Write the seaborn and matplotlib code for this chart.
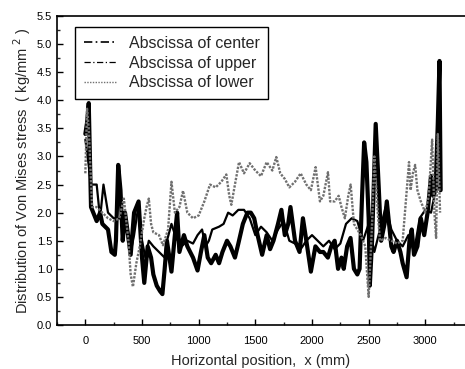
import numpy as np
import pandas as pd
import matplotlib
matplotlib.use("Agg")
import matplotlib.pyplot as plt
from matplotlib.lines import Line2D
from matplotlib.ticker import MultipleLocator
import seaborn as sns

# Abscissa of center (thick line)
x_center = [0, 15, 30, 50, 100, 130, 150, 200, 230, 260, 270, 290, 310, 330, 350, 400, 430, 470,
            500, 520, 550, 580, 600, 630, 660, 680, 700, 720, 760, 790, 810, 830, 870, 900, 950,
            990, 1020, 1050, 1080, 1110, 1150, 1180, 1210, 1250, 1280, 1320, 1350, 1390, 1430,
            1460, 1490, 1520, 1560, 1600, 1630, 1660, 1700, 1730, 1760, 1790, 1810, 1850, 1890,
            1920, 1950, 1990, 2030, 2070, 2100, 2140, 2170, 2200, 2230, 2260, 2280, 2310, 2340,
            2370, 2400, 2420, 2440, 2460, 2480, 2500, 2510, 2530, 2562, 2590, 2610, 2640, 2660,
            2700, 2720, 2750, 2780, 2800, 2835, 2860, 2880, 2900, 2930, 2960, 2990, 3020, 3050,
            3070, 3090, 3110, 3125, 3135]
y_center = [3.4, 3.6, 3.95, 2.1, 1.85, 2.0, 1.8, 1.7, 1.3, 1.25, 1.5, 2.85, 2.4, 1.5, 2.0, 1.25, 2.0,
            2.2, 1.2, 0.75, 1.4, 1.2, 0.9, 0.7, 0.6, 0.55, 1.0, 1.5, 0.95, 1.6, 2.0, 1.3, 1.6, 1.4,
            1.2, 0.97, 1.3, 1.6, 1.2, 1.1, 1.25, 1.1, 1.3, 1.5, 1.4, 1.2, 1.45, 1.8, 2.0, 2.0, 1.9,
            1.6, 1.25, 1.6, 1.35, 1.5, 1.8, 2.05, 1.6, 1.8, 2.1, 1.5, 1.3, 1.9, 1.5, 0.95, 1.4,
            1.3, 1.3, 1.2, 1.4, 1.5, 1.0, 1.2, 1.0, 1.4, 1.55, 1.0, 0.9, 1.0, 2.2, 3.25, 2.9, 1.9,
            0.7, 1.5, 3.58, 2.4, 1.5, 1.8, 2.2, 1.4, 1.3, 1.5, 1.3, 1.1, 0.85, 1.5, 1.7, 1.25, 1.4,
            1.9, 1.6, 2.0, 2.65, 2.3, 2.4, 3.6, 4.7, 2.4]

# Abscissa of upper (medium line)
x_upper = [0, 20, 50, 100, 130, 160, 200, 250, 300, 350, 380, 400, 430, 470, 500, 530, 560, 600,
           650, 700, 720, 760, 800, 850, 900, 950, 990, 1030, 1060, 1090, 1120, 1180, 1220, 1260,
           1300, 1350, 1400, 1450, 1500, 1550, 1600, 1650, 1700, 1750, 1800, 1850, 1900, 1950,
           2000, 2050, 2100, 2150, 2200, 2250, 2300, 2350, 2400, 2450, 2500, 2550, 2600, 2650,
           2700, 2750, 2800, 2850, 2900, 2950, 3000, 3050, 3080, 3100, 3130]
y_upper = [3.3, 3.0, 2.5, 2.5, 1.9, 2.5, 2.0, 1.9, 1.9, 1.85, 1.5, 1.3, 1.6, 2.15, 1.5, 1.2, 1.5,
           1.4, 1.3, 1.2, 1.5, 1.8, 1.55, 1.4, 1.5, 1.45, 1.6, 1.7, 1.4, 1.5, 1.7, 1.75, 1.8, 2.0,
           1.95, 2.05, 2.05, 1.9, 1.6, 1.75, 1.65, 1.5, 1.7, 1.85, 1.5, 1.45, 1.35, 1.5, 1.6,
           1.5, 1.4, 1.5, 1.35, 1.45, 1.8, 1.9, 1.85, 1.5, 1.8, 1.3, 1.7, 2.1, 1.7, 1.5, 1.4, 1.6,
           1.3, 1.9, 2.05, 2.0, 2.3, 2.5, 2.4]

# Abscissa of lower (dotted grey line)
x_lower = [0, 15, 30, 60, 100, 150, 200, 250, 300, 340, 380, 400, 420, 450, 480, 520, 540, 560,
           580, 600, 650, 685, 730, 760, 790, 830, 862, 900, 950, 1000, 1050, 1100, 1150, 1200,
           1244, 1270, 1288, 1320, 1356, 1400, 1450, 1500, 1550, 1600, 1650, 1685, 1720, 1760,
           1800, 1850, 1900, 1950, 1990, 2032, 2070, 2100, 2141, 2160, 2200, 2235, 2260, 2290,
           2320, 2341, 2370, 2400, 2430, 2470, 2500, 2530, 2550, 2580, 2600, 2650, 2700, 2750,
           2800, 2820, 2856, 2870, 2890, 2910, 2930, 2960, 3000, 3030, 3060, 3080, 3095, 3110,
           3130]
y_lower = [2.7, 3.85, 3.5, 2.1, 2.1, 2.0, 1.9, 1.85, 1.9, 2.25, 1.5, 0.9, 0.68, 1.1, 1.4, 1.9, 2.1,
           2.25, 1.8, 1.65, 1.6, 1.42, 1.7, 2.55, 2.0, 2.1, 2.39, 2.0, 1.9, 1.95, 2.2, 2.5, 2.45,
           2.55, 2.68, 2.3, 2.14, 2.5, 2.9, 2.7, 2.88, 2.75, 2.65, 2.9, 2.75, 2.99, 2.7, 2.6,
           2.45, 2.55, 2.7, 2.5, 2.4, 2.81, 2.2, 2.3, 2.72, 2.2, 2.2, 2.3, 2.1, 1.9, 2.3, 2.5,
           1.8, 1.7, 1.6, 1.4, 0.5, 1.8, 3.0, 2.0, 1.5, 1.55, 1.5, 1.45, 1.5, 2.0, 2.9, 2.4,
           2.7, 2.85, 2.4, 2.2, 2.0, 2.3, 3.3, 2.0, 1.55, 3.4, 2.0]

labels = ["Abscissa of center", "Abscissa of upper", "Abscissa of lower"]

sns.set_style("ticks")
plt.rcParams["font.family"] = ["Liberation Sans", "DejaVu Sans"]

fig = plt.figure(figsize=(4.65, 3.69), dpi=100)
ax = fig.add_axes([0.1226, 0.1192, 0.8774, 0.8374])

sns.lineplot(x=x_center, y=y_center, ax=ax, color="black", linewidth=3.0, sort=False)
sns.lineplot(x=x_upper, y=y_upper, ax=ax, color="black", linewidth=1.6, sort=False)
sns.lineplot(x=x_lower, y=y_lower, ax=ax, color="#707070", linewidth=1.7,
             linestyle=(0, (1, 0.6)), sort=False)

ax.set_xlim(-250, 3350)
ax.set_ylim(0, 5.5)
ax.xaxis.set_major_locator(MultipleLocator(500))
ax.xaxis.set_minor_locator(MultipleLocator(250))
ax.yaxis.set_major_locator(MultipleLocator(0.5))
ax.yaxis.set_minor_locator(MultipleLocator(0.25))
ax.yaxis.set_major_formatter(matplotlib.ticker.FormatStrFormatter("%.1f"))
ax.tick_params(which="major", direction="in", length=4, width=1, labelsize=8, colors="black")
ax.tick_params(which="minor", direction="in", length=2, width=1)
ax.tick_params(axis="x", pad=8)
for s in ["left", "bottom", "top"]:
    ax.spines[s].set_linewidth(1.2)
    ax.spines[s].set_color("black")
ax.spines["right"].set_visible(False)

ax.set_xlabel("Horizontal position,  x (mm)", fontsize=10.5, labelpad=6)
ax.set_ylabel("Distribution of Von Mises stress  ( kg/mm$^{\\ 2}$ )", fontsize=10.5, labelpad=3)

handles = [
    Line2D([], [], color="black", linewidth=1.2, linestyle=(0, (5, 2, 1, 2))),
    Line2D([], [], color="black", linewidth=0.9, linestyle=(0, (5, 2, 1, 2))),
    Line2D([], [], color="#707070", linewidth=1.0, linestyle=(0, (1, 1))),
]
ax.legend(handles, labels, loc="upper left", bbox_to_anchor=(0.025, 0.99), fontsize=11.5,
          frameon=True, fancybox=False, edgecolor="black", framealpha=1,
          handlelength=2.0, labelspacing=0.3, borderpad=0.55)
ax.get_legend().get_frame().set_linewidth(1.0)

fig.savefig("out.png", dpi=100)
